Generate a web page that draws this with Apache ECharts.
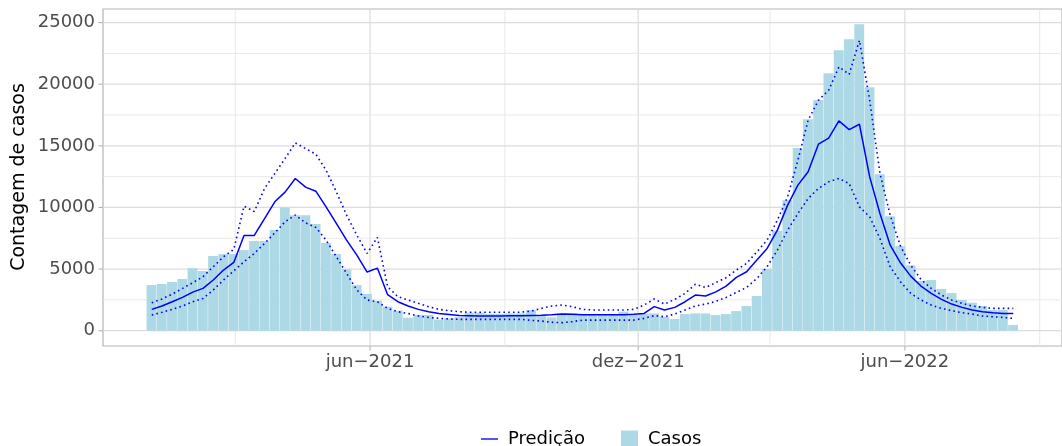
<!DOCTYPE html>
<html><head><meta charset="utf-8">
<script src="https://cdn.jsdelivr.net/npm/echarts@6/dist/echarts.min.js"></script>
<style>html,body{margin:0;padding:0;background:#fff}#c{width:1062px;height:446px}</style>
</head><body><div id="c"></div>
<script>
// ---- data ----
const weeks = [
 '2021-01-03','2021-01-10','2021-01-17','2021-01-24','2021-01-31','2021-02-07','2021-02-14','2021-02-21','2021-02-28',
 '2021-03-07','2021-03-14','2021-03-21','2021-03-28','2021-04-04','2021-04-11','2021-04-18','2021-04-25',
 '2021-05-02','2021-05-09','2021-05-16','2021-05-23','2021-05-30','2021-06-06','2021-06-13','2021-06-20','2021-06-27',
 '2021-07-04','2021-07-11','2021-07-18','2021-07-25','2021-08-01','2021-08-08','2021-08-15','2021-08-22','2021-08-29',
 '2021-09-05','2021-09-12','2021-09-19','2021-09-26','2021-10-03','2021-10-10','2021-10-17','2021-10-24','2021-10-31',
 '2021-11-07','2021-11-14','2021-11-21','2021-11-28','2021-12-05','2021-12-12','2021-12-19','2021-12-26',
 '2022-01-02','2022-01-09','2022-01-16','2022-01-23','2022-01-30','2022-02-06','2022-02-13','2022-02-20','2022-02-27',
 '2022-03-06','2022-03-13','2022-03-20','2022-03-27','2022-04-03','2022-04-10','2022-04-17','2022-04-24',
 '2022-05-01','2022-05-08','2022-05-15','2022-05-22','2022-05-29','2022-06-05','2022-06-12','2022-06-19','2022-06-26',
 '2022-07-03','2022-07-10','2022-07-17','2022-07-24','2022-07-31','2022-08-07','2022-08-14'
];
const casos = [
 3700,3790,3950,4190,5080,4840,6060,6220,6220,6540,7270,7270,8160,10000,9360,9360,8650,7110,6220,4980,
 3700,2980,2430,1950,1620,1060,1280,1270,900,1000,1100,1450,1450,1350,1350,1400,1400,1670,1270,1080,
 1400,1400,1270,1270,1270,1270,1540,1270,1400,1400,1130,950,1350,1400,1400,1270,1350,1590,2000,2810,
 5000,8100,10590,14830,17160,18720,20880,22750,23640,24860,19750,12700,9290,6860,5300,4030,4110,3380,3050,2490,
 2270,2000,1680,1680,460
];
const predicao = [
 1730,2000,2350,2700,3130,3430,4110,4920,5540,7730,7730,9100,10460,11240,12350,11650,11320,10050,8700,7350,
 6130,4760,5080,2920,2350,2000,1730,1540,1400,1320,1240,1220,1200,1200,1200,1210,1220,1240,1260,1300,
 1350,1330,1300,1290,1290,1290,1300,1330,1400,1950,1680,1890,2350,2890,2810,3150,3620,4330,4780,5730,
 6670,8160,10190,11810,12890,15130,15620,17020,16320,16750,12480,9510,6940,5510,4430,3620,3030,2540,2160,1890,
 1680,1540,1460,1400,1400
];
const limiteSuperior = [
 2270,2570,2970,3430,3890,4380,5190,6000,6590,10100,9670,11540,12750,13970,15240,14780,14320,13020,11270,9380,
 7750,6270,7570,3570,2760,2500,2220,1950,1730,1620,1540,1490,1490,1490,1490,1490,1500,1590,1810,2000,
 2080,1950,1730,1680,1680,1680,1680,1730,2080,2570,2160,2540,3030,3760,3510,3900,4300,4920,5460,6400,
 7350,8970,10860,13830,17080,18700,19510,21400,20800,23560,18700,12750,9380,6860,5320,4160,3430,2890,2490,2220,
 2000,1890,1810,1810,1810
];
const limiteInferior = [
 1270,1490,1730,2000,2350,2620,3300,4110,4860,5590,6270,7080,7940,8840,9380,8750,8380,7350,6000,4650,
 3300,2490,2350,1810,1540,1400,1190,1080,1000,950,920,920,920,920,920,920,920,840,780,680,
 650,730,860,860,860,860,860,860,1000,1220,1130,1350,1680,2000,2160,2380,2700,3100,3510,4240,
 5190,6540,8160,9510,10730,11540,12080,12350,11940,10050,9240,7480,5190,3970,3030,2490,2080,1810,1620,1460,
 1350,1190,1130,1080,1000
];
const xMajorBreaks = ['2021-06-01','2021-12-01','2022-06-01'];
const xMajorLabels = ['jun\u22122021','dez\u22122021','jun\u22122022'];
const xMinorBreaks = ['2021-03-01','2021-09-01','2022-03-01','2022-09-01'];
const yMajorBreaks = [0,5000,10000,15000,20000,25000];
const yMinorBreaks = [2500,7500,12500,17500,22500];
const yTitle = 'Contagem de casos';
const legendNames = ['Predi\u00e7\u00e3o','Casos'];

// ---- build ----
const DAY = 86400000;
const FONT = "'DejaVu Sans', sans-serif";
const ts = weeks.map(d => Date.parse(d));
const t0 = ts[0] - 3.5*DAY, t1 = ts[ts.length-1] + 3.5*DAY, span = t1 - t0;
const xMin = t0 - 0.05*span, xMax = t1 + 0.05*span;
const yTop = Math.max(...casos, ...predicao, ...limiteSuperior, ...limiteInferior);
const yMin = -0.05*yTop, yMax = 1.05*yTop;

const pair = arr => arr.map((v,i) => [ts[i], v]);

const xGridData = xMajorBreaks.map((d,i)=>[Date.parse(d), 1, 1, i])
  .concat(xMinorBreaks.map(d=>[Date.parse(d), 1, 0, -1]));
const yGridData = yMajorBreaks.map(v=>[xMin, v, 1]).concat(yMinorBreaks.map(v=>[xMin, v, 0]));

const chart = echarts.init(document.getElementById('c'), null, {renderer:'canvas'});
chart.setOption({
  animation: false,
  backgroundColor: '#ffffff',
  grid: {left: 103, right: -9, top: 9, bottom: 100, show: true, borderColor: '#B3B3B3', borderWidth: 1.2, backgroundColor: 'transparent'},
  xAxis: {type: 'value', min: xMin, max: xMax, show: true,
    axisLine:{show:false}, axisTick:{show:false}, axisLabel:{show:false}, splitLine:{show:false}},
  yAxis: {type: 'value', min: yMin, max: yMax,
    axisLine:{show:false}, axisTick:{show:false}, axisLabel:{show:false}, splitLine:{show:false}},
  legend: {
    data: [{name: legendNames[0], icon: 'path://M0,0 L20,0 L20,1.6 L0,1.6 Z'}, {name: legendNames[1], icon: 'rect'}],
    left: 476, top: 425, itemWidth: 17, itemHeight: 17, itemGap: 36, symbolKeepAspect: true,
    selectedMode: false,
    textStyle: {fontFamily: FONT, fontSize: 18, color: '#000', padding: [0,0,0,5]}
  },
  graphic: [{type:'text', x: 19, y: 177, rotation: Math.PI/2,
    style:{text: yTitle, fontFamily: FONT, fontSize: 19, fill:'#000', textAlign:'center', textVerticalAlign:'middle'}}],
  series: [
    {type:'custom', name:'xgrid', z: 0, silent: true, data: xGridData, encode:{x:0, y:1},
     renderItem: function(params, api){
       const cs = params.coordSys;
       const px = api.coord([api.value(0), 0])[0];
       const major = api.value(2) === 1;
       const bottom = cs.y + cs.height;
       const ch = [{type:'line', shape:{x1:px, y1:cs.y, x2:px, y2:bottom},
         style:{stroke: major ? '#DCDCDC' : '#E6E6E6', lineWidth: major ? 1.2 : 0.9}}];
       if (major) {
         ch.push({type:'line', shape:{x1:px, y1:bottom, x2:px, y2:bottom+4.5}, style:{stroke:'#B3B3B3', lineWidth:1.1}});
         ch.push({type:'text', style:{text: xMajorLabels[api.value(3)], x:px, y:bottom+16,
           textAlign:'center', textVerticalAlign:'middle', fontFamily: FONT, fontSize: 18, fill:'#4D4D4D'}});
       }
       return {type:'group', children: ch};
     }},
    {type:'custom', name:'ygrid', z: 0, silent: true, data: yGridData, encode:{x:0, y:1},
     renderItem: function(params, api){
       const cs = params.coordSys;
       const py = api.coord([api.value(0), api.value(1)])[1];
       const major = api.value(2) === 1;
       const ch = [{type:'line', shape:{x1:cs.x, y1:py, x2:cs.x+cs.width, y2:py},
         style:{stroke: major ? '#DCDCDC' : '#E6E6E6', lineWidth: major ? 1.2 : 0.9}}];
       if (major) {
         ch.push({type:'line', shape:{x1:cs.x-4.5, y1:py, x2:cs.x, y2:py}, style:{stroke:'#B3B3B3', lineWidth:1.1}});
         ch.push({type:'text', style:{text: String(api.value(1)), x:cs.x-8, y:py,
           textAlign:'right', textVerticalAlign:'middle', fontFamily: FONT, fontSize: 18, fill:'#4D4D4D'}});
       }
       return {type:'group', children: ch};
     }},
    {type:'custom', name: legendNames[1], z: 2, data: pair(casos), encode:{x:0, y:1},
     itemStyle:{color:'#ADD8E6'},
     renderItem: function(params, api){
       const t = api.value(0), v = api.value(1);
       const p0 = api.coord([t - 3.5*DAY, v]);
       const p1 = api.coord([t + 3.5*DAY, 0]);
       return {type:'rect', shape:{x:p0[0], y:p0[1], width:p1[0]-p0[0]-0.4, height:p1[1]-p0[1]},
         style:{fill:'#ADD8E6'}};
     }},
    {type:'line', name: legendNames[0], z: 4, data: pair(predicao), symbol:'none', color:'#0000FF',
     lineStyle:{color:'#0000FF', width:1.5}},
    {type:'line', name:'Limite superior', z: 4, data: pair(limiteSuperior), symbol:'none', color:'#0000FF',
     lineStyle:{color:'#0000FF', width:1.6, type:[1.6,3.2]}},
    {type:'line', name:'Limite inferior', z: 4, data: pair(limiteInferior), symbol:'none', color:'#0000FF',
     lineStyle:{color:'#0000FF', width:1.6, type:[1.6,3.2]}}
  ]
});
</script>
</body></html>
